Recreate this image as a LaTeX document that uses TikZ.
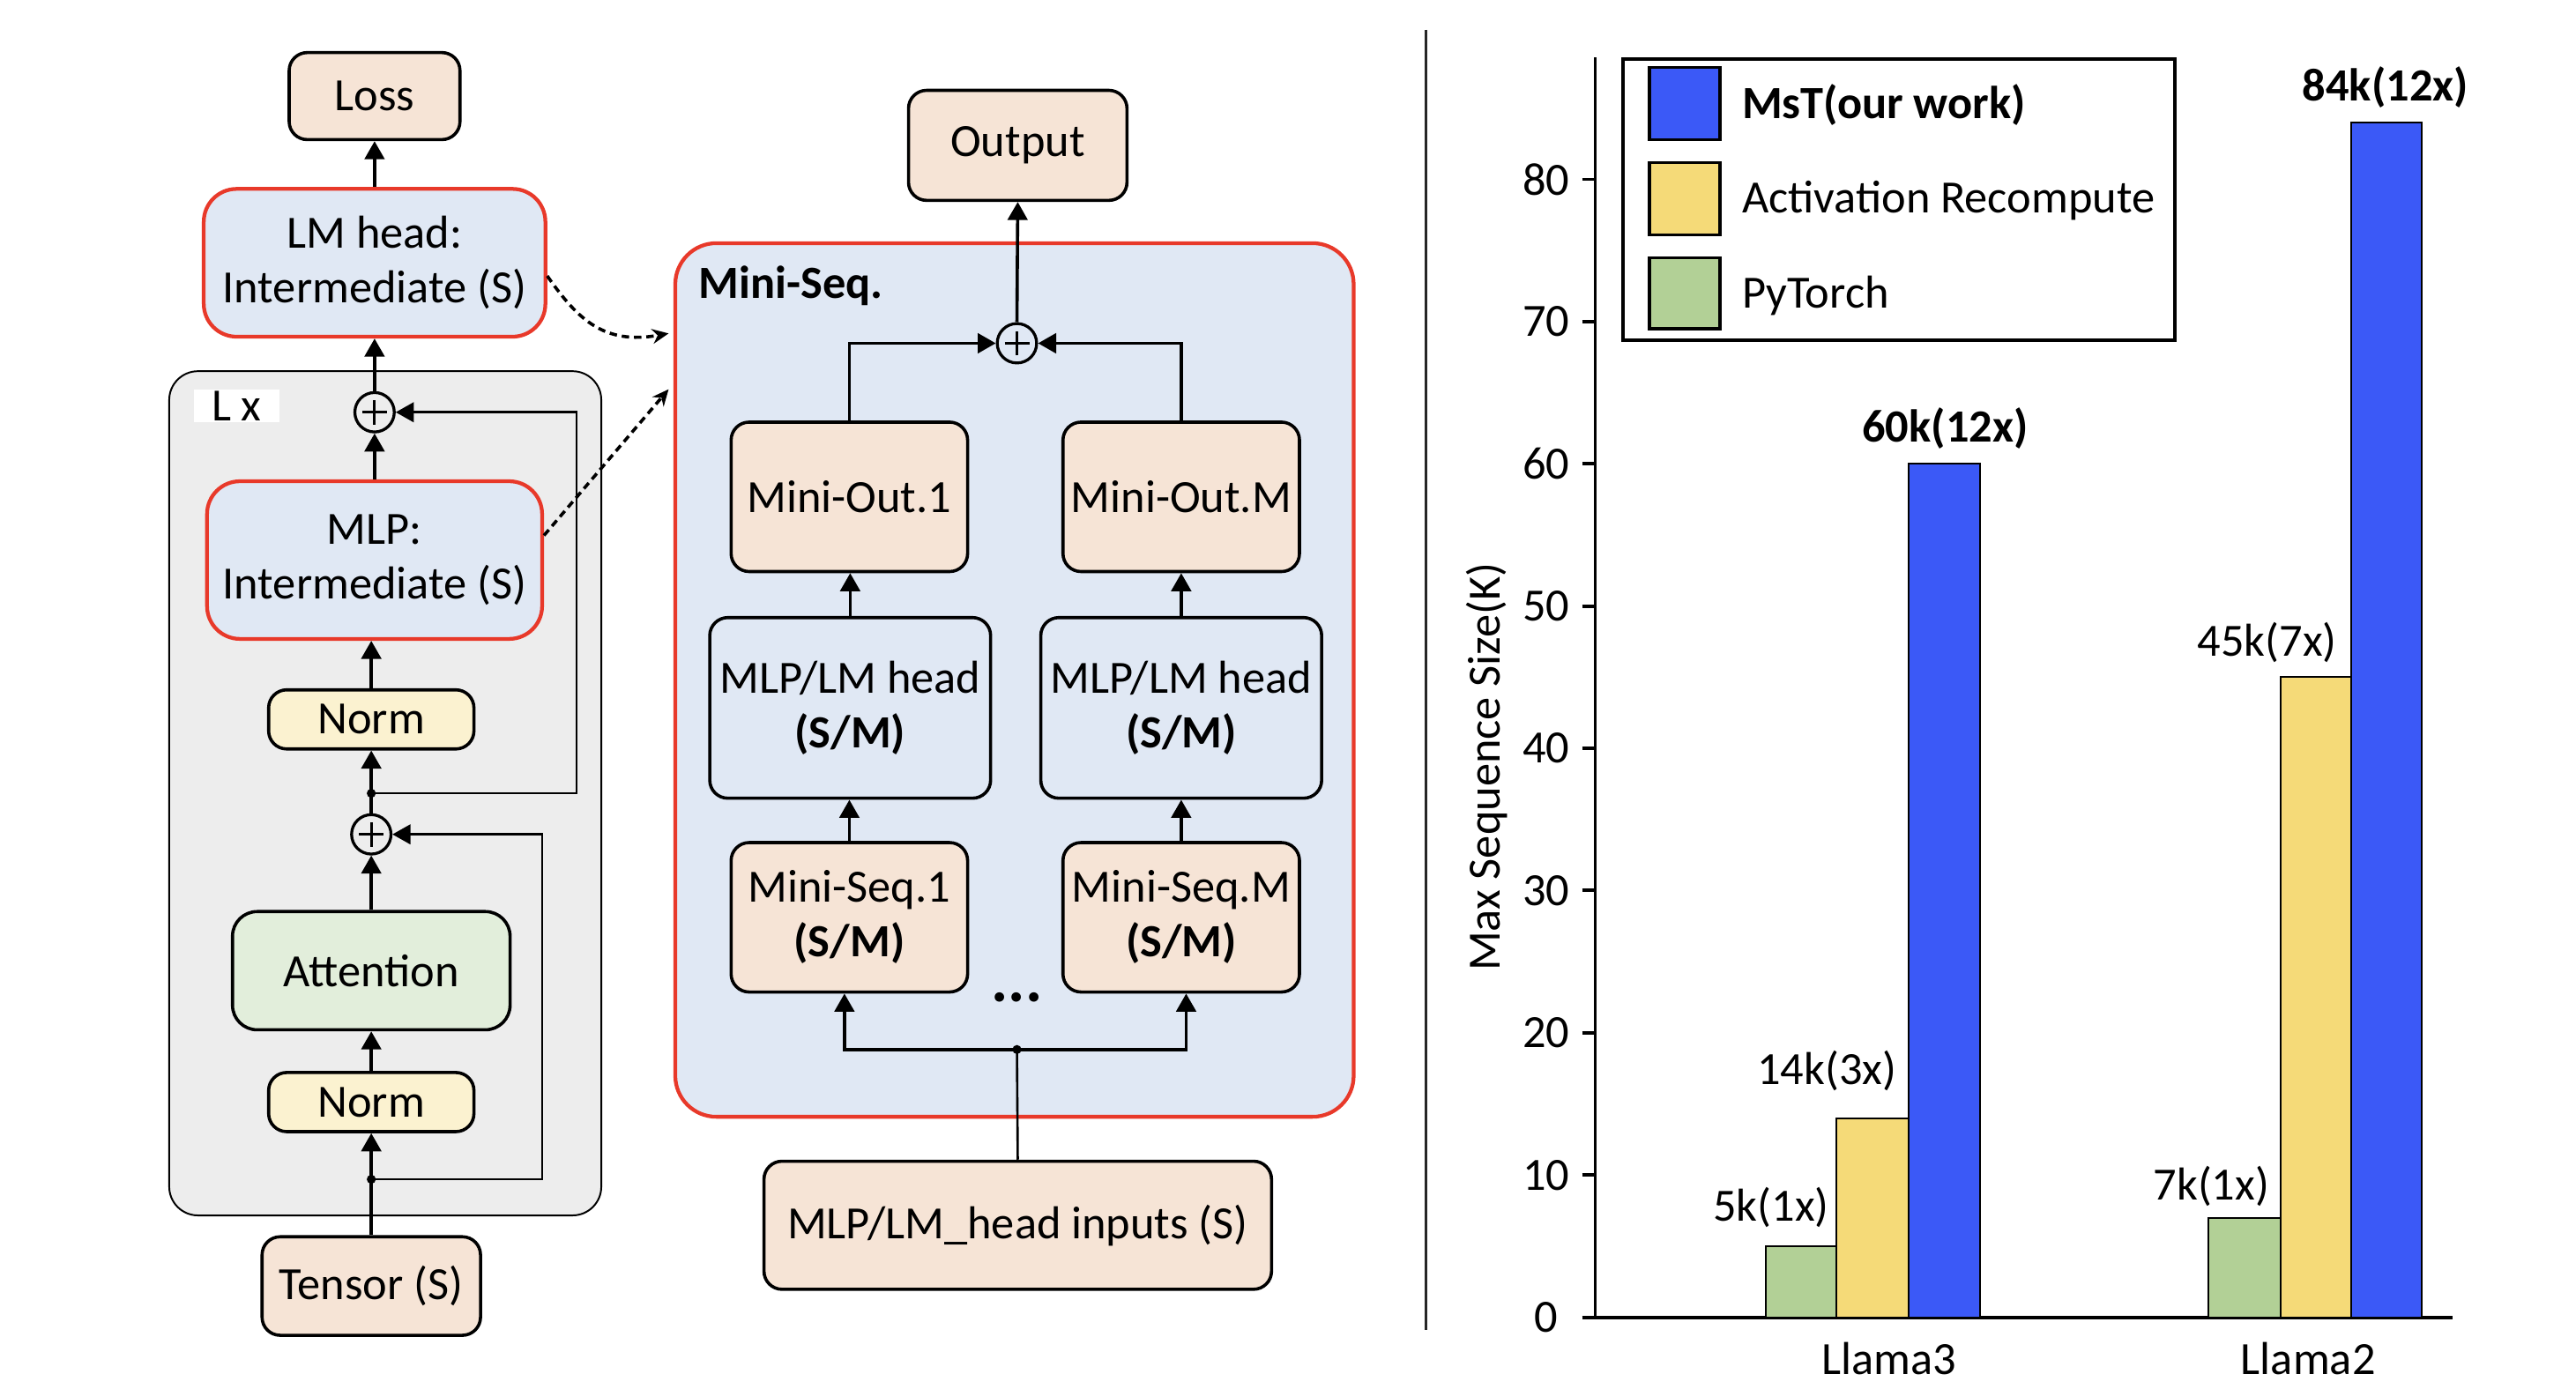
\documentclass[tikz,border=0pt]{standalone}
\usepackage{fontspec}
\setmainfont{Carlito}
\usetikzlibrary{arrows.meta,calc}
\definecolor{peach}{RGB}{246,228,214}
\definecolor{lblue}{RGB}{224,232,244}
\definecolor{nyellow}{RGB}{251,242,208}
\definecolor{agreen}{RGB}{226,238,219}
\definecolor{graybg}{RGB}{237,237,237}
\definecolor{redline}{RGB}{232,57,42}
\definecolor{barblue}{RGB}{59,89,247}
\definecolor{baryellow}{RGB}{245,218,120}
\definecolor{bargreen}{RGB}{178,208,150}
\begin{document}
\begin{tikzpicture}[x=0.02cm,y=-0.02cm,
  font=\fontsize{16}{19}\selectfont,
  box/.style={draw, line width=1.1pt, rounded corners=0.22cm, align=center, inner sep=0pt},
  peachbox/.style={box, fill=peach},
  bluebox/.style={box, fill=lblue},
  redbox/.style={box, fill=lblue, draw=redline, line width=1.3pt, rounded corners=0.4cm},
  normbox/.style={box, fill=nyellow},
  attnbox/.style={box, fill=agreen, rounded corners=0.3cm},
  arr/.style={line width=1.1pt, -{Triangle[length=0.22cm,width=0.24cm]}},
  res/.style={line width=0.8pt, -{Triangle[length=0.22cm,width=0.24cm]}},
  dasharr/.style={line width=1.1pt, dash pattern=on 0.09cm off 0.06cm, -{Stealth[length=0.2cm,width=0.18cm]}},
  plusnode/.style={circle, draw, line width=1pt, minimum size=0.48cm, inner sep=0pt,
    path picture={\draw[line width=0.9pt]
      ([xshift=-0.15cm]path picture bounding box.center) -- ([xshift=0.15cm]path picture bounding box.center)
      ([yshift=-0.15cm]path picture bounding box.center) -- ([yshift=0.15cm]path picture bounding box.center);}},
  jdot/.style={circle, fill, inner sep=0pt, minimum size=0.11cm},
  barstyle/.style={draw, line width=0.6pt},
  axisline/.style={line width=1.2pt},
]
\useasboundingbox (0,0) rectangle (1568,845.7);

% ---------------- left panel ----------------
\draw[fill=graybg, line width=0.6pt, rounded corners=0.35cm] (103,226) rectangle (366,740);
\node[fill=white, minimum width=1.04cm, minimum height=0.4cm, inner sep=0pt] (lx) at (144,247) {L x};

\node[peachbox, minimum width=2.08cm, minimum height=1.06cm] (loss) at (228,58.5) {Loss};
\node[redbox, minimum width=4.16cm, minimum height=1.8cm] (lmhead) at (228,160) {LM head:\\Intermediate (S)};
\node[plusnode] (plus1) at (228,251) {};
\node[redbox, minimum width=4.08cm, minimum height=1.92cm] (mlp) at (228,341) {MLP:\\Intermediate (S)};
\node[normbox, minimum width=2.5cm, minimum height=0.72cm] (norm1) at (226,438) {Norm};
\node[jdot] (dot1) at (226,483) {};
\node[plusnode] (plus2) at (226,508) {};
\node[attnbox, minimum width=3.38cm, minimum height=1.44cm] (attn) at (226,591) {Attention};
\node[normbox, minimum width=2.5cm, minimum height=0.72cm] (norm2) at (226,671) {Norm};
\node[jdot] (dot2) at (226,718) {};
\node[peachbox, minimum width=2.66cm, minimum height=1.2cm] (tensor) at (226,783) {Tensor (S)};

\draw[arr] (lmhead.north) -- (loss.south);
\draw[arr] (plus1.north) -- (lmhead.south);
\draw[arr] (mlp.north) -- (plus1.south);
\draw[arr] (norm1.north) -- (norm1.north |- mlp.south);
\draw[arr] (plus2.north) -- (norm1.south);
\draw[res] (dot1.center) -| (351,251) -- (plus1.east);
\draw[arr] (attn.north) -- (plus2.south);
\draw[arr] (norm2.north) -- (attn.south);
\draw[arr] (tensor.north) -- (norm2.south);
\draw[res] (dot2.center) -| (330,508) -- (plus2.east);

% dashed links to Mini-Seq
\draw[dasharr] ([yshift=-0.16cm]lmhead.east) .. controls (352,195) and (368,210) .. (407,203);
\draw[dasharr] ([yshift=0.3cm]mlp.east) -- (407,237);

% ---------------- middle panel ----------------
\node[peachbox, minimum width=2.66cm, minimum height=1.34cm] (output) at (619.5,88.5) {Output};
\node[redbox, minimum width=8.26cm, minimum height=10.64cm, rounded corners=0.5cm] (mseq) at (617.5,414) {};
\node[anchor=west, inner sep=0pt, font=\fontsize{16}{19}\selectfont\bfseries] (mseqlabel) at (425,174) {Mini-Seq.};
\node[plusnode] (plus3) at (619,209) {};
\node[peachbox, minimum width=2.88cm, minimum height=1.82cm] (mo1) at (517,302.5) {Mini-Out.1};
\node[peachbox, minimum width=2.88cm, minimum height=1.82cm] (moM) at (719,302.5) {Mini-Out.M};
\node[bluebox, minimum width=3.42cm, minimum height=2.2cm] (mlp1) at (517.5,431) {MLP/LM head\\\textbf{(S/M)}};
\node[bluebox, minimum width=3.42cm, minimum height=2.2cm] (mlp2) at (719,431) {MLP/LM head\\\textbf{(S/M)}};
\node[peachbox, minimum width=2.88cm, minimum height=1.82cm] (ms1) at (517,558.5) {Mini-Seq.1\\\textbf{(S/M)}};
\node[peachbox, minimum width=2.88cm, minimum height=1.82cm] (msM) at (719,558.5) {Mini-Seq.M\\\textbf{(S/M)}};
\node[font=\fontsize{22}{24}\selectfont\bfseries, inner sep=0pt] (dots) at (619,607) {...};
\node[jdot] (dot3) at (619,639) {};
\node[peachbox, minimum width=6.18cm, minimum height=1.56cm] (input) at (619.5,746) {MLP/LM\_head inputs (S)};

\draw[arr] (plus3.north) -- (output.south);
\draw[arr] (mo1.north) |- (plus3.west);
\draw[arr] (moM.north) |- (plus3.east);
\draw[arr] (mlp1.north) -- (mlp1.north |- mo1.south);
\draw[arr] (mlp2.north) -- (mlp2.north |- moM.south);
\draw[arr] (ms1.north) -- (ms1.north |- mlp1.south);
\draw[arr] (msM.north) -- (msM.north |- mlp2.south);
\draw[line width=0.8pt] (input.north) -- (dot3.center);
\draw[arr] (dot3.center) -| ([xshift=-0.06cm]ms1.south);
\draw[arr] (dot3.center) -| ([xshift=0.06cm]msM.south);

% separator
\draw[line width=0.9pt, black!85] (868,18) -- (868,810);

% ---------------- chart ----------------
\draw[axisline] (971,35) -- (971,802);
\draw[axisline] (963,802) -- (1493,802);
\foreach \v in {0,10,...,80} {
  \draw[axisline] (963,{802-8.66*\v}) -- (971,{802-8.66*\v});
  \node[inner sep=0pt] at (941,{802-8.66*\v}) {\v};
}
\node[rotate=90, inner sep=0pt] (ylabel) at (905,467) {Max Sequence Size(K)};

% Llama3
\draw[barstyle, fill=bargreen] (1075,802) rectangle (1118,{802-8.66*5});
\draw[barstyle, fill=baryellow] (1118,802) rectangle (1162,{802-8.66*14});
\draw[barstyle, fill=barblue] (1162,802) rectangle (1205,{802-8.66*60});
% Llama2
\draw[barstyle, fill=bargreen] (1344,802) rectangle (1388,{802-8.66*7});
\draw[barstyle, fill=baryellow] (1388,802) rectangle (1431,{802-8.66*45});
\draw[barstyle, fill=barblue] (1431,802) rectangle (1474,{802-8.66*84});

\node[inner sep=0pt] at (1078,735) {5k(1x)};
\node[inner sep=0pt] at (1112,652) {14k(3x)};
\node[inner sep=0pt, font=\fontsize{16}{19}\selectfont\bfseries] at (1184,261) {60k(12x)};
\node[inner sep=0pt] at (1346,722) {7k(1x)};
\node[inner sep=0pt] at (1380,391) {45k(7x)};
\node[inner sep=0pt, font=\fontsize{16}{19}\selectfont\bfseries] at (1452,53) {84k(12x)};

\node[inner sep=0pt] at (1150,827) {Llama3};
\node[inner sep=0pt] at (1405,827) {Llama2};

% legend
\draw[line width=1.2pt, fill=white] (988,36) rectangle (1324,207);
\draw[line width=1.1pt, fill=barblue] (1004,41) rectangle (1047,85);
\draw[line width=1.1pt, fill=baryellow] (1004,99) rectangle (1047,143);
\draw[line width=1.1pt, fill=bargreen] (1004,157) rectangle (1047,200);
\node[anchor=west, inner sep=0pt, font=\fontsize{16}{19}\selectfont\bfseries] at (1060,64) {MsT(our work)};
\node[anchor=west, inner sep=0pt] at (1060,122) {Activation Recompute};
\node[anchor=west, inner sep=0pt] at (1060,180) {PyTorch};
\end{tikzpicture}
\end{document}
